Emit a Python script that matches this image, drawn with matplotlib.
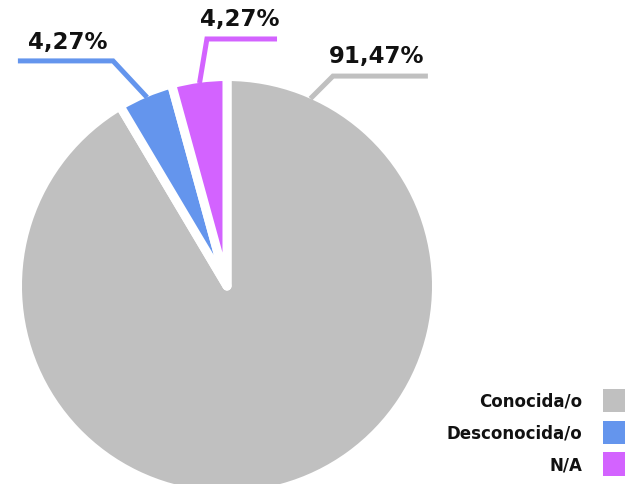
import matplotlib
matplotlib.use("Agg")
import matplotlib.pyplot as plt

# data
categories = ["Conocida/o", "Desconocida/o", "N/A"]
values     = [91.47, 4.27, 4.27]
labels     = ["91,47%", "4,27%", "4,27%"]
colors     = ["#c0c0c0", "#6495ed", "#d363ff"]

# leader lines (start on rim, elbow, end) and label centres, in pie units
leaders = [
    [(0.407, 0.914), (0.517, 1.024), (0.98, 1.024)],
    [(-0.39, 0.92), (-0.556, 1.098), (-1.02, 1.098)],
    [(-0.134, 0.99), (-0.098, 1.205), (0.244, 1.205)],
]
label_pos = [(0.73, 1.125), (-0.776, 1.195), (0.063, 1.305)]

W, H = 625, 485
fig = plt.figure(figsize=(W / 100, H / 100), dpi=100)
fig.patch.set_facecolor("white")

# pie centre at (227, 287) px from top, 205 px per unit
ax = fig.add_axes([22 / W, -7 / H, 410 / W, 410 / H])

wedges, _ = ax.pie(values, colors=colors, startangle=90, counterclock=False,
                   radius=1.022,
                   wedgeprops=dict(edgecolor="white", linewidth=6.5))
for w in wedges:
    w.set_joinstyle("round")
ax.set_xlim(-1, 1)
ax.set_ylim(-1, 1)
ax.axis("off")

for pts, col, lab, (tx, ty) in zip(leaders, colors, labels, label_pos):
    xs = [p[0] for p in pts]
    ys = [p[1] for p in pts]
    ax.plot(xs, ys, color=col, lw=3.6, clip_on=False,
            solid_joinstyle="miter", solid_capstyle="butt")
    ax.text(tx, ty, lab, ha="center", va="center", fontsize=16.5,
            fontweight="bold", color="#111111", clip_on=False)

leg = ax.legend(wedges, categories, loc="lower right",
                bbox_to_anchor=(631 / W, 8 / H), bbox_transform=fig.transFigure,
                markerfirst=False, frameon=False, fontsize=12,
                handlelength=1.7, handleheight=1.8, handletextpad=1.2,
                labelspacing=0.5, borderpad=0, borderaxespad=0)
for t in leg.get_texts():
    t.set_color("#111111")
    t.set_fontweight("semibold")
for h in leg.legend_handles:
    h.set_edgecolor("none")
    h.set_linewidth(0)

fig.savefig("out.png", dpi=100, facecolor="white")
